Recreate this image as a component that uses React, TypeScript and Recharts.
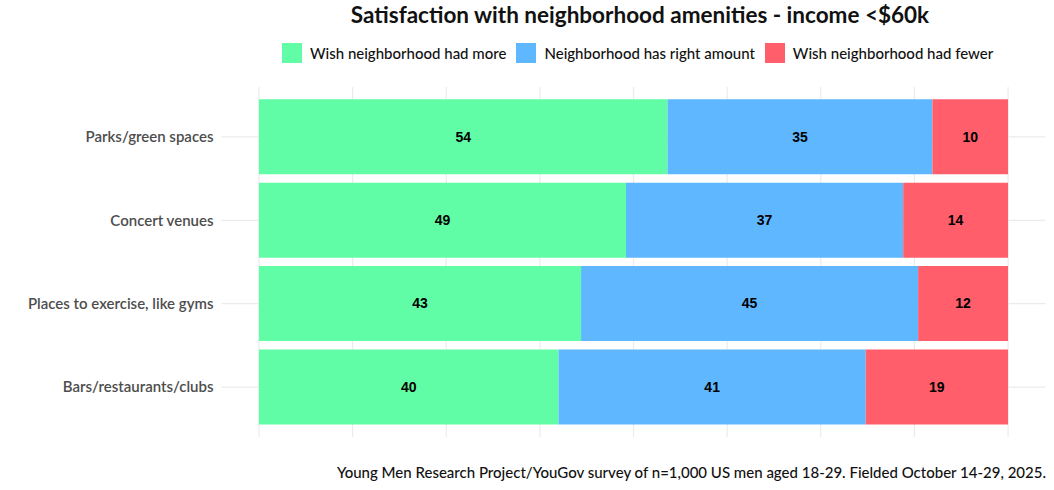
import React from "react";
import {
  Bar,
  BarChart,
  CartesianGrid,
  LabelList,
  XAxis,
  YAxis,
} from "recharts";

const categories = [
  "Parks/green spaces",
  "Concert venues",
  "Places to exercise, like gyms",
  "Bars/restaurants/clubs",
];
const wishMore = [54, 49, 43, 40];
const rightAmount = [35, 37, 45, 41];
const wishFewer = [10, 14, 12, 19];
const gridTicks = [0, 12.5, 25, 37.5, 50, 62.5, 75, 87.5, 100];

const series = [
  { key: "more", name: "Wish neighborhood had more", color: "#60FDA6" },
  { key: "right", name: "Neighborhood has right amount", color: "#5EB7FF" },
  { key: "fewer", name: "Wish neighborhood had fewer", color: "#FF5E6A" },
];

// bars fill the full width (position = "fill"), labels show the raw numbers
const data = categories.map((name, i) => {
  const total = wishMore[i] + rightAmount[i] + wishFewer[i];
  return {
    name,
    more: (wishMore[i] / total) * 100,
    right: (rightAmount[i] / total) * 100,
    fewer: (wishFewer[i] / total) * 100,
    moreLabel: wishMore[i],
    rightLabel: rightAmount[i],
    fewerLabel: wishFewer[i],
  };
});

const font = "Lato, 'Noto Sans', sans-serif";

export default function App() {
  return (
    <div
      style={{
        position: "absolute",
        left: 0,
        top: 0,
        width: 1054,
        height: 490,
        background: "#fff",
        fontFamily: font,
      }}
    >
      <div
        style={{
          position: "absolute",
          top: 1,
          left: 0,
          width: 1280,
          textAlign: "center",
          fontSize: 22.5,
          fontWeight: 700,
          color: "#111",
        }}
      >
        Satisfaction with neighborhood amenities - income &lt;$60k
      </div>
      <div
        style={{
          position: "absolute",
          top: 43,
          left: 282,
          display: "flex",
          alignItems: "center",
          fontSize: 15,
          fontWeight: 500,
          color: "#111",
        }}
      >
        {series.map((s) => (
          <div key={s.key} style={{ display: "flex", alignItems: "center", marginRight: 10 }}>
            <div style={{ width: 20, height: 20, background: s.color, marginRight: 8 }} />
            <span>{s.name}</span>
          </div>
        ))}
      </div>
      <BarChart
        width={1054}
        height={490}
        data={data}
        layout="vertical"
        margin={{ top: 87, right: 8.5, bottom: 53, left: 0 }}
      >
        <CartesianGrid stroke="#ebebeb" strokeWidth={1.2} syncWithTicks />
        <XAxis
          type="number"
          domain={[-5, 105]}
          allowDataOverflow
          ticks={gridTicks}
          interval={0}
          height={0}
          tick={() => null}
          axisLine={false}
          tickLine={false}
        />
        <YAxis
          type="category"
          dataKey="name"
          width={221.5}
          padding={{ top: 8.25, bottom: 8.25 }}
          axisLine={false}
          tickLine={false}
          tick={{ fill: "#4d4d4d", fontSize: 15, fontWeight: 600, fontFamily: font }}
        />
        {series.map((s) => (
          <Bar
            key={s.key}
            dataKey={s.key}
            name={s.name}
            stackId="a"
            fill={s.color}
            barSize={75}
            isAnimationActive={false}
          >
            <LabelList
              dataKey={s.key + "Label"}
              position="center"
              fill="#000"
              fontSize={14}
              fontWeight={700}
              fontFamily="Arial, 'Liberation Sans', sans-serif"
            />
          </Bar>
        ))}
      </BarChart>
      <div
        style={{
          position: "absolute",
          top: 463,
          right: 8,
          fontSize: 15,
          fontWeight: 500,
          color: "#111",
        }}
      >
        Young Men Research Project/YouGov survey of n=1,000 US men aged 18-29. Fielded October 14-29, 2025.
      </div>
    </div>
  );
}
